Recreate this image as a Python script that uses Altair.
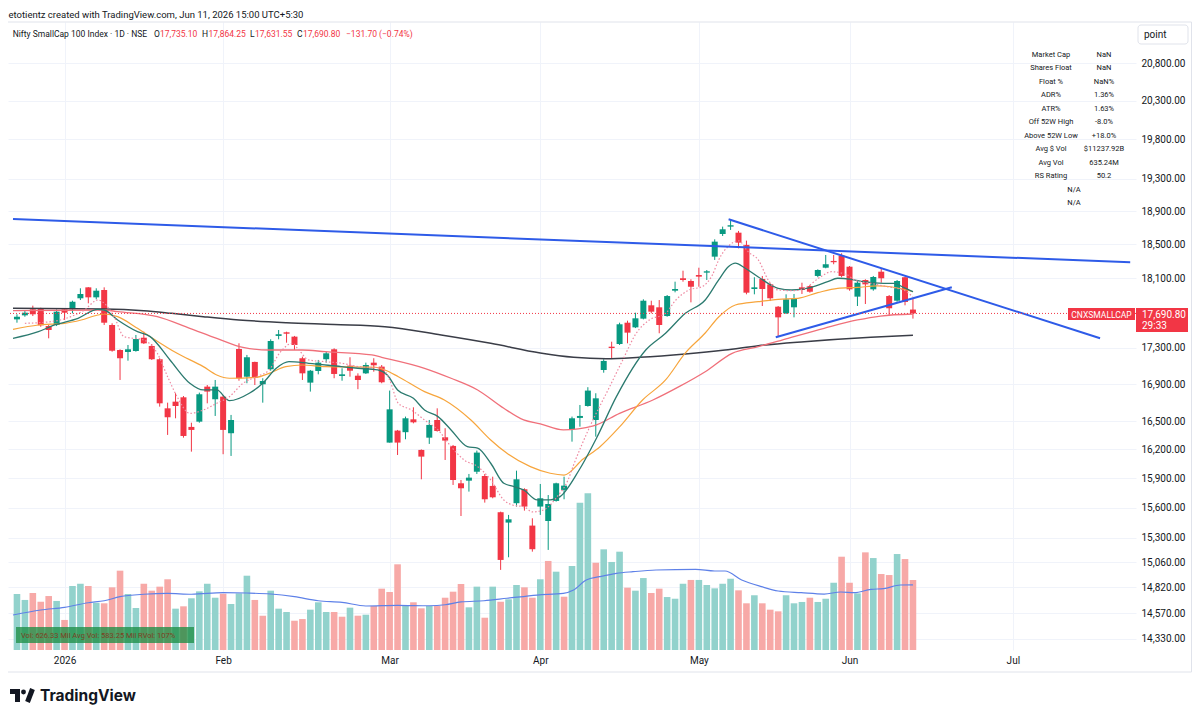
import altair as alt
import pandas as pd

# ---------------- data ----------------
opens = [17623, 17669, 17738, 17750, 17547, 17559, 17738, 17738, 17865, 17992,
         17876, 17961, 17559, 17277, 17255, 17266, 17415, 17322, 17174, 16637,
         16709, 16756, 16438, 16494, 16872, 16735, 16763, 16371, 17288, 16981,
         17144, 16898, 17063, 17435, 17476, 17427, 17185, 16916, 17044, 17174,
         17285, 16989, 17103, 16992, 17018, 17136, 17092, 16272, 16399, 16382,
         16519, 16195, 16324, 16512, 16328, 16237, 15849, 15876, 15968, 15924,
         15822, 15555, 15451, 15646, 15788, 15421, 15612, 15467, 15669, 15781,
         16413, 16534, 16662, 16512, 17055, 17314, 17344, 17585, 17532, 17631,
         17784, 17761, 17661, 17953, 18098, 18066, 18136, 18164, 18353, 18624,
         18713, 18640, 18493, 17973, 18090, 18027, 17768, 17692, 17761, 17992,
         18008, 18125, 18222, 18302, 18365, 18234, 17884, 18078, 17969, 18175,
         17891, 17837, 18110, 17735.10]
highs = [17681, 17722, 17780, 17756, 17559, 17738, 17750, 17837, 17981, 17995,
         17981, 17992, 17578, 17285, 17333, 17446, 17483, 17344, 17185, 16698,
         16800, 16770, 16483, 16807, 16890, 16945, 16781, 16566, 17352, 17222,
         17147, 16964, 17397, 17502, 17483, 17435, 17203, 17055, 17166, 17258,
         17296, 17074, 17196, 17018, 17136, 17185, 17110, 16829, 16406, 16548,
         16648, 16200, 16512, 16637, 16424, 16247, 15883, 15945, 16188, 15945,
         15917, 15561, 15528, 15979, 15798, 15494, 15842, 15729, 15855, 15917,
         16548, 16673, 16866, 16800, 17174, 17370, 17585, 17608, 17699, 17853,
         17837, 17845, 17903, 18058, 18187, 18086, 18222, 18195, 18560, 18713,
         18802, 18661, 18544, 18110, 18125, 18039, 17776, 17911, 17915, 18046,
         18019, 18203, 18373, 18373, 18393, 18242, 18078, 18086, 18125, 18215,
         17903, 18078, 18117, 17864.25]
lows = [17585, 17653, 17661, 17539, 17408, 17547, 17616, 17692, 17845, 17807,
        17853, 17559, 17258, 16945, 17158, 17258, 17344, 17166, 16655, 16353,
        16530, 16324, 16177, 16483, 16691, 16555, 16150, 16132, 16937, 16909,
        16890, 16698, 17047, 17397, 17359, 17277, 16945, 16818, 17007, 17136,
        16964, 16937, 16981, 16844, 17011, 17036, 16909, 16272, 16142, 16307,
        16476, 15890, 16258, 16388, 16090, 15832, 15517, 15764, 15945, 15652,
        15696, 14985, 15108, 15612, 15571, 15163, 15528, 15180, 15662, 15686,
        16282, 16441, 16655, 16335, 17025, 17185, 17333, 17352, 17524, 17623,
        17692, 17465, 17653, 17934, 18058, 17818, 17999, 18078, 18314, 18600,
        18673, 18452, 17911, 17911, 17776, 17833, 17427, 17684, 17646, 17915,
        17930, 18110, 18215, 18263, 18110, 17953, 17776, 17799, 17953, 18046,
        17661, 17825, 17784, 17631.55]
closes = [17653, 17699, 17681, 17555, 17502, 17711, 17699, 17825, 17915, 17876,
          17953, 17585, 17269, 17185, 17285, 17400, 17352, 17174, 16691, 16541,
          16662, 16342, 16406, 16789, 16818, 16872, 16406, 16512, 16964, 17196,
          16970, 16934, 17378, 17454, 17460, 17333, 17018, 17047, 17136, 17240,
          17011, 17007, 17047, 16945, 17110, 17107, 16920, 16626, 16272, 16530,
          16487, 16125, 16459, 16395, 16293, 15883, 15798, 15907, 16167, 15686,
          15706, 15082, 15484, 15890, 15612, 15187, 15696, 15638, 15849, 15825,
          16530, 16555, 16829, 16745, 17155, 17299, 17567, 17472, 17635, 17837,
          17711, 17559, 17891, 17973, 18078, 17999, 18117, 18180, 18532, 18681,
          18730, 18520, 17930, 17992, 17973, 17865, 17646, 17853, 17862, 17961,
          17941, 18195, 18263, 18287, 18125, 17969, 18046, 18027, 18113, 18098,
          17750, 18066, 17822.5, 17690.80]
volumes = [501, 448, 510, 432, 483, 439, 269, 573, 593, 573,
           423, 418, 561, 710, 501, 376, 593, 531, 567, 633,
           370, 391, 463, 525, 593, 468, 504, 412, 507, 665,
           448, 307, 531, 370, 340, 262, 277, 361, 427, 340,
           340, 298, 379, 307, 316, 394, 549, 519, 767, 400,
           427, 373, 394, 396, 468, 522, 591, 382, 567, 289,
           567, 432, 454, 582, 561, 468, 633, 797, 701, 477,
           752, 1318, 1402, 781, 901, 788, 880, 558, 531, 644,
           510, 549, 474, 459, 593, 627, 627, 582, 552, 593,
           638, 534, 418, 490, 418, 361, 346, 490, 418, 430,
           468, 430, 459, 602, 835, 602, 507, 874, 823, 680,
           671, 859, 814, 626.33]

# volume moving average (M)
vma_i = [-0.5, 3, 6, 9, 11, 13, 16, 19, 22, 26, 29, 32, 35, 38, 41, 44, 48, 52, 54, 56,
         58.9, 61.8, 65.6, 68.9, 70.2, 71.8, 73.5, 75.6, 77.7, 80.6, 85.6, 88, 89.3, 91.4,
         93.9, 96, 98.9, 101.8, 103.9, 105.6, 107.7, 109.3, 111.4, 113]
vma_v = [313, 358, 382, 423, 441, 477, 499, 507, 499, 513, 510, 501, 477, 441, 427, 394, 400, 396, 405, 430,
         441, 463, 492, 507, 537, 627, 656, 686, 701, 716, 722, 707, 707, 627,
         567, 528, 513, 501, 519, 513, 543, 549, 582, 583.25]

# price moving averages
black_i = [-0.5, 11, 16, 19.5, 23.5, 28, 34, 40, 46.4, 53.5, 59.75, 66, 70.2, 74.3, 78.5,
           84.3, 89.3, 93.5, 99.3, 107.7, 113]
black_v = [17750, 17742, 17722, 17692, 17654, 17616, 17585, 17565, 17540, 17446, 17352, 17244, 17196,
           17180, 17196, 17233, 17277, 17325, 17370, 17420, 17442]
red_i = [-0.5, 11, 12.7, 17.7, 21.8, 25.2, 28.5, 31.8, 36, 38.9, 44.75, 46, 51.4, 54.75, 58.1, 61.4,
         63.9, 66, 68.9, 72.7, 76, 80.2, 83.5, 86.8, 90.2, 93.5, 97.25, 101.8, 106, 108.9, 113]
red_v = [17722, 17730, 17711, 17654, 17521, 17408, 17307, 17277, 17277, 17258, 17222, 17196, 17074,
         16964, 16836, 16637, 16512, 16470, 16406, 16449, 16583, 16727, 16872, 17036, 17240, 17314,
         17408, 17521, 17616, 17661, 17684]
orange_i = [-0.5, 2.7, 6, 8.1, 10.2, 11, 12.7, 15.2, 16.8, 20.2, 23.5, 25.2, 26.8, 30.2, 31.8, 33.9,
            36, 38.9, 45.2, 46.4, 48.1, 51.4, 53.9, 57.25, 59.75, 61.8, 64.75, 67.25, 69, 71.4, 73.5,
            76, 78.9, 81.8, 84.3, 86.8, 88.5, 90.6, 93.5, 96, 98.5, 101, 103.5, 106, 108.5, 110.2, 113]
orange_v = [17510, 17559, 17578, 17616, 17673, 17684, 17654, 17521, 17427, 17240, 17092, 17000, 16964,
            16975, 17018, 17092, 17110, 17092, 17085, 17055, 16981, 16818, 16727, 16512, 16300, 16160,
            16021, 15952, 15934, 16100, 16226, 16438, 16727, 16945, 17244, 17468, 17650, 17788, 17826,
            17853, 17865, 17930, 17981, 17992, 18008, 17999, 17941]
teal_i = [-0.5, 2.7, 4.75, 7.7, 10.2, 11, 12.7, 15.2, 16.8, 19.3, 21.8, 23.5, 25.2, 26.8, 29.3, 31,
          32.7, 34.3, 36.8, 40.9, 43, 45.5, 46.7, 48, 50, 51.4, 53.1, 54.75, 56.8, 58.1, 59.75, 61.4,
          62.7, 63.9, 65.6, 67.25, 68.5, 70.9, 73.1, 75.6, 79.3, 81.8, 84.3, 86.8, 88.5, 89.75, 90.6,
          91.8, 93.5, 96, 97.7, 100.2, 102.25, 103.5, 105.2, 106.8, 109.3, 110.6, 111.8, 113]
teal_v = [17408, 17483, 17559, 17635, 17738, 17730, 17616, 17483, 17427, 17166, 16909, 16836, 16836,
          16719, 16800, 16909, 17074, 17147, 17129, 17092, 17074, 17055, 17000, 16836, 16745, 16619,
          16548, 16406, 16230, 16213, 16056, 15849, 15815, 15781, 15679, 15679, 15713, 15986, 16321,
          16763, 17277, 17465, 17692, 17845, 18078, 18236, 18276, 18219, 18113, 17981, 17961, 17992,
          18058, 18098, 18086, 18058, 18039, 18039, 17992, 17941]
pink_i = [1, 4.3, 6.8, 8.5, 10.2, 12.25, 13.5, 16, 17.7, 19, 20.2, 21.8, 23.5, 25.2, 26.8, 28.5, 30.2,
          31.8, 33.1, 34.75, 35.4, 36.8, 38.9, 41, 43.1, 46, 47, 48.1, 49.75, 51.4, 53.1, 54.75, 56.4,
          58.1, 59.75, 61.4, 62.5, 64, 65, 66.4, 68.1, 69.5, 70.2, 72.25, 74.75, 76.4, 78.1, 79.75,
          81.8, 83.1, 84.75, 86.4, 87.7, 88.5, 89.75, 91, 92.25, 93.5, 94.75, 96, 98.1, 99.3, 101.4,
          102.7, 104.75, 105.6, 107.7, 109.75, 111.8, 113]
pink_v = [17578, 17597, 17654, 17730, 17845, 17654, 17427, 17389, 17240, 16981, 16763, 16583, 16619,
          16691, 16763, 16909, 16981, 17055, 17240, 17352, 17296, 17166, 17147, 17129, 17092, 17077,
          16945, 16691, 16619, 16512, 16406, 16230, 16090, 16021, 15883, 15679, 15628, 15608, 15558,
          15578, 15710, 15883, 16038, 16441, 16872, 17166, 17465, 17616, 17692, 17845, 17961, 18000,
          18136, 18314, 18480, 18542, 18408, 18314, 18078, 17961, 17953, 17981, 18117, 18175, 18136,
          18078, 18039, 17999, 17961, 17880]

# drawn trend lines (two anchor points each)
tl_name = ["a", "a", "b", "b", "c", "c"]
tl_i = [-0.5, 140.4, 89.75, 136.6, 95.7, 117.9]
tl_v = [18806, 18286, 18802, 17409, 17420, 17993]

last_price = 17690.80
y_ticks = [14330, 14570, 14820, 15060, 15300, 15600, 15900, 16200, 16500, 16900, 17300,
           18100, 18500, 18900, 19300, 19800, 20300, 20800]
month_pos = [6, 26, 47, 66, 86, 105, 125.6]
month_lab = ["2026", "Feb", "Mar", "Apr", "May", "Jun", "Jul"]

tbl_labels = ["Market Cap", "Shares Float", "Float %", "ADR%", "ATR%", "Off 52W High",
              "Above 52W Low", "Avg $ Vol", "Avg Vol", "RS Rating"]
tbl_values = ["NaN", "NaN", "NaN%", "1.36%", "1.63%", "-8.0%", "+18.0%", "$11237.92B",
              "635.24M", "50.2"]

# ---------------- frames ----------------
df = pd.DataFrame({"i": list(range(len(closes))), "open": opens, "high": highs,
                   "low": lows, "close": closes, "vol": volumes})
df["up"] = df["close"] >= df["open"]
prev = df["close"].shift(1)
df["vup"] = (df["close"] > prev) | prev.isna()

def ldf(xs, vs):
    return pd.DataFrame({"i": xs, "v": vs})

UP, DN = "#089981", "#F23645"
DARK = "#131722"
GRID = "#f0f3fa"
FONT = "Roboto"

XS = alt.Scale(domain=[-0.5, 140.5], nice=False, zero=False)
YS = alt.Scale(type="log", domain=[14228, 21363], nice=False, zero=False)
VS = alt.Scale(domain=[0, 5621], nice=False, zero=True)

lab_expr = " : ".join(
    f"datum.value == {p} ? '{l}'" for p, l in zip(month_pos[:-1], month_lab[:-1])
) + f" : '{month_lab[-1]}'"
xaxis = alt.Axis(values=month_pos, labelExpr=lab_expr, grid=True, gridColor=GRID,
                 domain=False, ticks=False, labelPadding=5, labelFontSize=10,
                 labelColor=DARK, labelFont=FONT, title=None, labelFlush=False)
yaxis = alt.Axis(orient="right", values=y_ticks, format=",.2f", grid=True, gridColor=GRID,
                 domain=False, ticks=False, labelPadding=5, labelFontSize=10,
                 labelColor=DARK, labelFont=FONT, title=None, labelOverlap=False)

X = alt.X("i:Q", scale=XS, axis=xaxis)

# volume pane
vol = alt.Chart(df).mark_bar(size=6.6).encode(
    x=X, y=alt.Y("vol:Q", scale=VS, axis=None),
    color=alt.condition("datum.vup", alt.value("#92d2cc"), alt.value("#f7a9a7")))
vma = alt.Chart(ldf(vma_i, vma_v)).mark_line(color="#5e81e8", strokeWidth=1.2,
                                             interpolate="monotone", clip=True).encode(
    x=X, y=alt.Y("v:Q", scale=VS, axis=None))
volume_layer = alt.layer(vol, vma)

# price pane
cond = alt.condition("datum.up", alt.value(UP), alt.value(DN))
wick = alt.Chart(df).mark_rule(strokeWidth=1).encode(
    x=X, y=alt.Y("low:Q", scale=YS, axis=yaxis), y2="high:Q", color=cond)
body = alt.Chart(df).mark_bar(size=6).encode(
    x=X, y=alt.Y("open:Q", scale=YS, axis=yaxis), y2="close:Q", color=cond)

def ma(xs, vs, color, width=1.3, dash=None):
    kw = dict(color=color, strokeWidth=width, interpolate="monotone", clip=True)
    if dash:
        kw["strokeDash"] = dash
    return alt.Chart(ldf(xs, vs)).mark_line(**kw).encode(
        x=X, y=alt.Y("v:Q", scale=YS, axis=yaxis))

ma_black = ma(black_i, black_v, "#3a3d47", 1.5)
ma_red = ma(red_i, red_v, "#f0707a", 1.3)
ma_orange = ma(orange_i, orange_v, "#f7a53c", 1.2)
ma_teal = ma(teal_i, teal_v, "#2b7a6f", 1.3)
ma_pink = ma(pink_i, pink_v, "#ee88a0", 1.2, [1.5, 2])

trend = alt.Chart(pd.DataFrame({"line": tl_name, "i": tl_i, "v": tl_v})).mark_line(
    color="#2e5be8", strokeWidth=2, clip=True).encode(
    x=X, y=alt.Y("v:Q", scale=YS, axis=yaxis), detail="line:N")

pline = alt.Chart(pd.DataFrame({"p": [last_price]})).mark_rule(
    color=DN, strokeDash=[1, 2], strokeWidth=1).encode(
    y=alt.Y("p:Q", scale=YS, axis=yaxis))

price_layer = alt.layer(wick, body, ma_black, ma_red, ma_orange, ma_teal, ma_pink,
                        trend, pline)

# ---------------- annotations ----------------
one = pd.DataFrame({"a": [0]})

def txt(s, x, y, size=8, color=DARK, align="left", baseline="alphabetic",
        weight="normal", font=FONT):
    return alt.Chart(one).mark_text(text=s, fontSize=size, color=color, align=align,
                                    baseline=baseline, fontWeight=weight, font=font).encode(
        x=alt.value(x), y=alt.value(y))

def box(x, x2, y, y2, fill, stroke=None, opacity=1.0, r=0, fill_opacity=1.0):
    kw = dict(fill=fill, opacity=opacity, cornerRadius=r, fillOpacity=fill_opacity)
    if stroke:
        kw["stroke"] = stroke
        kw["strokeWidth"] = 1
    return alt.Chart(one).mark_rect(**kw).encode(
        x=alt.value(x), x2=alt.value(x2), y=alt.value(y), y2=alt.value(y2))

logo = [
    box(2, 12, 667, 672, DARK),
    box(7, 12, 667, 680, DARK),
    alt.Chart(one).mark_circle(size=24, color=DARK, opacity=1).encode(
        x=alt.value(15.5), y=alt.value(670)),
    alt.Chart(one).mark_rule(strokeWidth=5, color=DARK, strokeCap="butt").encode(
        x=alt.value(24.5), y=alt.value(667), x2=alt.value(19.5), y2=alt.value(680)),
    txt("TradingView", 32, 678.5, 15.5, DARK, weight="bold", font="Inter"),
]

ann = [
    box(-0.5, 1183.5, 0, 650, "#ffffff", stroke="#e0e3eb", fill_opacity=0.0),
    txt("etotientz created with TradingView.com, Jun 11, 2026 15:00 UTC+5:30", 0.5, -4.5, 9.5),
    txt("Nifty SmallCap 100 Index · 1D · NSE", 4.7, 15, 8.5),
    txt("O", 146, 15, 8.5), txt("17,735.10", 152, 15, 8.5, DN),
    txt("H", 194, 15, 8.5), txt("17,864.25", 200.5, 15, 8.5, DN),
    txt("L", 242, 15, 8.5), txt("17,631.55", 247, 15, 8.5, DN),
    txt("C", 289, 15, 8.5), txt("17,690.80", 295, 15, 8.5, DN),
    txt("\u2212131.70 (\u22120.74%)", 338, 15, 8.5, DN),
    box(1130, 1180, 3, 22, "#ffffff", stroke="#e0e3eb", r=3),
    txt("point", 1136, 13, 10, baseline="middle"),
    box(1060, 1127, 286, 298, DN),
    txt("CNXSMALLCAP", 1093.5, 292.5, 8.5, "#ffffff", align="center", baseline="middle"),
    box(1128, 1180, 286, 310, DN),
    txt("17,690.80", 1134, 292.5, 10, "#ffffff", baseline="middle"),
    txt("29:33", 1134, 303.5, 10, "#ffffff", baseline="middle"),
    box(8, 186, 605, 621, "#1f8f47", opacity=0.78),
    txt("Vol: 626.33 Mil   Avg Vol: 583.25 Mil   RVol: 107%", 13, 613.5, 7.5, "#7d3f22",
        baseline="middle"),
] + logo

TS = alt.Scale(domain=[0, 11], range=[33, 181])
tbl_df = pd.DataFrame({"row": list(range(len(tbl_labels))), "label": tbl_labels,
                       "value": tbl_values})
na_df = pd.DataFrame({"row": [10, 11], "t": ["N/A", "N/A"]})
tbl_l = alt.Chart(tbl_df).mark_text(fontSize=7.5, font=FONT, color=DARK, align="center",
                                    baseline="middle").encode(
    x=alt.value(1043), y=alt.Y("row:Q", scale=TS, axis=None), text="label:N")
tbl_v = alt.Chart(tbl_df).mark_text(fontSize=7.5, font=FONT, color=DARK, align="center",
                                    baseline="middle").encode(
    x=alt.value(1096), y=alt.Y("row:Q", scale=TS, axis=None), text="value:N")
tbl_na = alt.Chart(na_df).mark_text(fontSize=7.5, font=FONT, color=DARK, align="center",
                                    baseline="middle").encode(
    x=alt.value(1066), y=alt.Y("row:Q", scale=TS, axis=None), text="t:N")

chart = alt.layer(volume_layer, price_layer, tbl_l, tbl_v, tbl_na, *ann).resolve_scale(
    y="independent"
).properties(
    width=1128, height=628,
    padding={"left": 0, "top": 14, "right": 56, "bottom": 62},
    autosize=alt.AutoSizeParams(type="none"),
    background="#ffffff",
).configure_view(stroke=None)

chart.save("out.html", embed_options={"renderer": "svg", "actions": False})
